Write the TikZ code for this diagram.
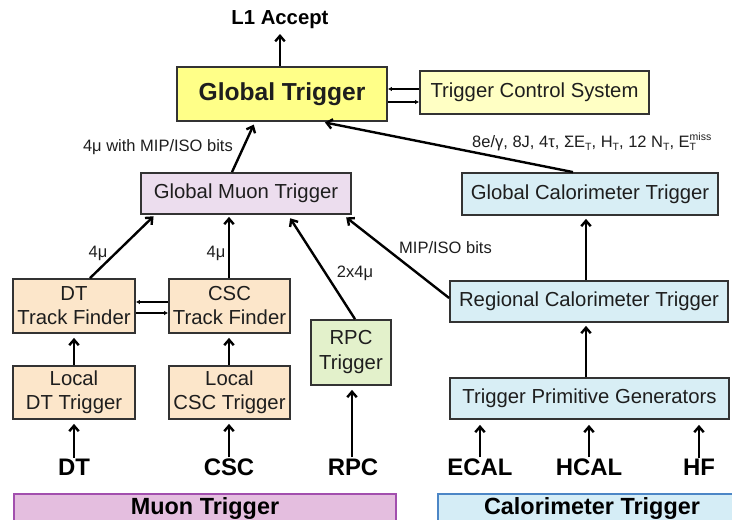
\documentclass[tikz,border=0pt]{standalone}
\usepackage{fontspec}
\setmainfont{Liberation Sans}
\usetikzlibrary{arrows.meta,calc}
\definecolor{boxline}{HTML}{333333}
\definecolor{txt}{HTML}{1E1E1E}
\definecolor{gtyel}{HTML}{FFFF88}
\definecolor{tcsyel}{HTML}{FFFFC4}
\definecolor{gmtpink}{HTML}{ECDDEE}
\definecolor{calblue}{HTML}{D8EEF5}
\definecolor{peach}{HTML}{FCE6CA}
\definecolor{rpcgreen}{HTML}{E3F1CB}
\definecolor{mufill}{HTML}{E4BEDF}
\definecolor{muline}{HTML}{A24FAE}
\definecolor{cafill}{HTML}{D5EDF6}
\definecolor{caline}{HTML}{4C86C6}
\newcommand\sbT{\raisebox{-0.3ex}{\fontsize{10.5}{11}\selectfont T}}
\begin{document}
\begin{tikzpicture}[x=1pt,y=-1pt,
  box/.style={draw=boxline, line width=1.8pt, inner sep=0pt, align=center, text=txt,
    font=\fontsize{20.3}{24}\selectfont},
  big/.style={font=\bfseries\fontsize{23.9}{26}\selectfont, text=black, inner sep=1pt},
  lab/.style={font=\fontsize{16.5}{18}\selectfont, text=txt, inner sep=0pt},
  arr/.style={line width=2.4pt, -{Straight Barb[length=5.5pt,width=9.5pt]}},
  thin/.style={line width=1.2pt, -{Latex[length=4pt,width=4.5pt]}}]
\useasboundingbox (0,0) rectangle (732,520);
\fill[white] (0,0) rectangle (732,520);

% boxes
\node[box, fill=gtyel, minimum width=210pt, minimum height=54pt,
  font=\bfseries\fontsize{24.6}{28}\selectfont] (GT) at (282,94) {Global Trigger};
\node[box, fill=tcsyel, minimum width=229pt, minimum height=43pt] (TCS) at (534.5,92.5) {Trigger Control System};
\node[box, fill=gmtpink, minimum width=210pt, minimum height=41pt] (GMT) at (246,193.5) {Global Muon Trigger};
\node[box, fill=calblue, minimum width=256pt, minimum height=42pt] (GCT) at (590,194) {Global Calorimeter Trigger};
\node[box, fill=calblue, minimum width=278pt, minimum height=41pt] (RCT) at (589,301.5) {Regional Calorimeter Trigger};
\node[box, fill=calblue, minimum width=279pt, minimum height=41pt] (TPG) at (589.5,398.5) {Trigger Primitive Generators};
\node[box, fill=peach, minimum width=122pt, minimum height=54pt] (DTTF) at (74,306) {DT\\Track Finder};
\node[box, fill=peach, minimum width=121pt, minimum height=54pt] (CSCTF) at (229.5,306) {CSC\\Track Finder};
\node[box, fill=peach, minimum width=122pt, minimum height=53pt] (LDT) at (74,392.5) {Local\\DT Trigger};
\node[box, fill=peach, minimum width=121pt, minimum height=53pt] (LCSC) at (229.5,392.5) {Local\\CSC Trigger};
\node[box, fill=rpcgreen, minimum width=80pt, minimum height=65pt,
  font=\fontsize{20.3}{25}\selectfont] (RPCT) at (351,352.5) {RPC\\Trigger};

% bottom bars
\node[draw=muline, fill=mufill, line width=1.5pt, minimum width=382pt, minimum height=40pt,
  anchor=north west, inner sep=0pt] (MB) at (13,493) {};
\node[big, font=\bfseries\fontsize{23.4}{26}\selectfont] (MBT) at (205,508) {Muon Trigger};
\node[draw=caline, fill=cafill, line width=1.5pt, minimum width=310pt, minimum height=40pt,
  anchor=north west, inner sep=0pt] (CB) at (437,493) {};
\node[big, font=\bfseries\fontsize{23.4}{26}\selectfont] (CBT) at (592,508) {Calorimeter Trigger};

% text labels
\node[big, font=\bfseries\fontsize{20.3}{22}\selectfont] (L1) at (280,20) {L1 Accept};
\node[big] (DT) at (74,467) {DT};
\node[big] (CSC) at (229,467) {CSC};
\node[big] (RPC) at (353,467) {RPC};
\node[big] (ECAL) at (480,467) {ECAL};
\node[big] (HCAL) at (589,467) {HCAL};
\node[big] (HF) at (699,467) {HF};

\node[lab, anchor=east] (l1) at (233,147) {4μ with MIP/ISO bits};
\node[lab, anchor=west] (l2) at (472,142) {8e/γ, 8J, 4τ, ΣE\sbT, H\sbT, 12 N\sbT, E\makebox[0pt][l]{\sbT}\raisebox{0.8ex}{\fontsize{10.5}{11}\selectfont miss}};
\node[lab, anchor=west] (l3) at (399,248) {MIP/ISO bits};
\node[lab] (l4) at (355,273) {2x4μ};
\node[lab] (l5) at (98,253) {4μ};
\node[lab] (l6) at (216,253) {4μ};

% connectors
\coordinate (L1b) at (280,34);
\draw[arr] (GT.north -| L1b) -- (L1b);
\draw[thin] (TCS.west |- 0,89) -- (GT.east |- 0,89);
\draw[thin] (GT.east |- 0,102) -- (TCS.west |- 0,102);
\draw[arr, shorten >=3pt] ([xshift=-14pt]GMT.north) -- ([xshift=-27pt]GT.south);
\draw[arr, shorten >=3pt] ([xshift=-17pt]GCT.north) -- ([xshift=40pt]GT.south);

\draw[thin] (CSCTF.west |- 0,302) -- (DTTF.east |- 0,302);
\draw[thin] (DTTF.east |- 0,313) -- (CSCTF.west |- 0,313);

\draw[arr, shorten >=4pt] (LDT.north) -- (DTTF.south);
\draw[arr, shorten >=4pt] (LCSC.north -| CSC) -- (CSCTF.south -| CSC);
\draw[arr, shorten >=4pt] (DT.north) -- (LDT.south);
\draw[arr, shorten >=4pt] (CSC.north) -- (LCSC.south -| CSC);
\draw[arr, shorten >=4pt] (RPC.north -| 352,0) -- (RPCT.south -| 352,0);

\draw[arr, shorten >=2pt] ([xshift=16pt]DTTF.north) -- ([xshift=-91pt]GMT.south);
\draw[arr, shorten >=2pt] (CSCTF.north -| CSC) -- (GMT.south -| CSC);
\draw[arr, shorten >=4pt] ([xshift=4pt]RPCT.north) -- ([xshift=42pt]GMT.south);
\draw[arr, shorten >=4pt] (RCT.west |- 0,298) -- ([xshift=97pt]GMT.south);

\draw[arr, shorten >=3pt] (RCT.north -| 586,0) -- (GCT.south -| 586,0);
\draw[arr, shorten >=3pt] (TPG.north -| 586,0) -- (RCT.south -| 586,0);
\draw[arr, shorten >=5pt] (ECAL.north) -- (TPG.south -| ECAL);
\draw[arr, shorten >=5pt] (HCAL.north) -- (TPG.south -| HCAL);
\draw[arr, shorten >=5pt] (HF.north) -- (TPG.south -| HF);
\end{tikzpicture}
\end{document}
